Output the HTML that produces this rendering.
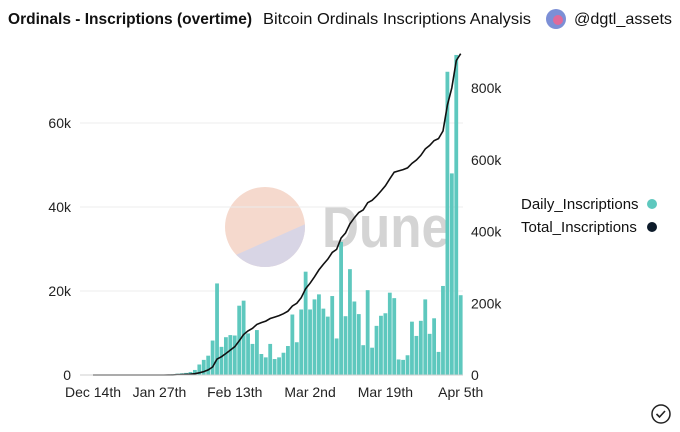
<!DOCTYPE html>
<html><head><meta charset="utf-8"><style>
html,body{margin:0;padding:0;background:#fff;}
svg{display:block;font-family:"Liberation Sans",sans-serif;}
</style></head><body>
<svg id="chart" width="680" height="432" viewBox="0 0 680 432" xmlns="http://www.w3.org/2000/svg">
  <g>
    <text x="8" y="24" font-size="16" font-weight="bold" fill="#111" textLength="244" lengthAdjust="spacingAndGlyphs">Ordinals - Inscriptions (overtime)</text>
    <text x="263" y="24" font-size="16" fill="#111" textLength="268" lengthAdjust="spacingAndGlyphs">Bitcoin Ordinals Inscriptions Analysis</text>
    <circle cx="556" cy="19" r="10" fill="#7c8fd6"/>
    <circle cx="558" cy="20" r="5" fill="#e06a9a"/>
    <text x="574" y="24" font-size="16" fill="#111" textLength="98" lengthAdjust="spacingAndGlyphs">@dgtl_assets</text>
  </g>
  <g>
    <clipPath id="wc"><circle cx="265" cy="227" r="40"/></clipPath>
    <g clip-path="url(#wc)">
      <rect x="220" y="180" width="90" height="95" fill="#f5d9cd"/>
      <polygon points="220,262 310,222 310,275 220,275" fill="#d8d5e5"/>
    </g>
    <text x="322" y="247" font-size="58" font-weight="bold" fill="#d4d4d4" textLength="128" lengthAdjust="spacingAndGlyphs">Dune</text>
  </g>
  <g id="grid"></g>
  <g id="bars"></g>
  <path id="line" fill="none" stroke="#111" stroke-width="1.6"/>
  <g id="axes"></g>
  <g>
    <text x="521" y="209" font-size="15" fill="#111">Daily_Inscriptions</text>
    <circle cx="652" cy="204" r="5" fill="#5ec8be"/>
    <text x="521" y="232" font-size="15" fill="#111">Total_Inscriptions</text>
    <circle cx="652" cy="227" r="5" fill="#0d1b2a"/>
  </g>
  <g>
    <circle cx="661" cy="414" r="9" fill="none" stroke="#222" stroke-width="1.5"/>
    <path d="M656.5 414 l3 3 l5.5 -6" fill="none" stroke="#222" stroke-width="1.6"/>
  </g>
</svg>
<script>
const dailyValues = [
0,0,0,0,0,0,0,0,0,0,0,0,0,0,0,0,0.1,0.1,0.2,0.3,0.4,0.5,0.7,
1.2,2.5,3.6,4.6,8.2,21.8,6.7,9,9.5,9.4,16.5,17.7,9.9,7.4,10.7,5,4.2,7.4,3.8,4.2,5.3,6.9,14.4,7.8,15.6,24.6,15.6,18,19.2,15.8,13.9,
18.8,8.7,31.7,14,25.2,17.5,14.5,7.1,20.2,6.5,11.7,14.1,14.7,19.6,18.3,3.7,3.6,4.7,12.7,9.3,12.9,18,9.8,13.5,5.5,21.2,72.2,48,76.2,19
];
const xTickLabels = ["Dec 14th","Jan 27th","Feb 13th","Mar 2nd","Mar 19th","Apr 5th"];
const xTickIndex = [0,15,32,49,66,83];
const leftTicks = [0,20,40,60];
const leftTickLabels = ["0","20k","40k","60k"];
const rightTicks = [0,200,400,600,800];
const rightTickLabels = ["0","200k","400k","600k","800k"];

const NS="http://www.w3.org/2000/svg";
const x0=93, step=4.43, base=375;
const xs=i=>x0+i*step;
const yL=v=>base-v*4.2;       // k units, 20k = 84px
const yR=v=>base-v*0.35875;   // k units, 800k = 287px
function mk(tag,attrs,parent){const e=document.createElementNS(NS,tag);for(const k in attrs)e.setAttribute(k,attrs[k]);parent.appendChild(e);return e;}

const grid=document.getElementById('grid');
leftTicks.forEach((t,i)=>{ if(t===0) return;
  const l=mk('line',{x1:80,x2:463,y1:yL(t),y2:yL(t),stroke:'#ececec','stroke-width':1},grid);
  
  
});
const bars=document.getElementById('bars');
dailyValues.forEach((v,i)=>{ if(v<=0) return;
  const r=mk('rect',{x:xs(i)-1.9,y:yL(v),width:3.8,height:base-yL(v),fill:'#5ec8be'},bars);
  
  
});
let cum=0,d='';
dailyValues.forEach((v,i)=>{cum+=v;d+=(i?'L':'M')+xs(i).toFixed(1)+' '+yR(cum).toFixed(1);});
document.getElementById('line').setAttribute('d',d);

const axes=document.getElementById('axes');
const bl=mk('line',{x1:80,x2:463,y1:base,y2:base,stroke:'#cfcfcf','stroke-width':1},axes);


xTickLabels.forEach((s,i)=>{
  const t=mk('text',{x:xs(xTickIndex[i]),y:397,'font-size':14,fill:'#222','text-anchor':'middle'},axes);
  t.textContent=s;
  
  
});
leftTicks.forEach((v,i)=>{
  const t=mk('text',{x:71,y:yL(v)+5,'font-size':14,fill:'#222','text-anchor':'end'},axes);
  t.textContent=leftTickLabels[i];
  
  
});
rightTicks.forEach((v,i)=>{
  const t=mk('text',{x:471,y:yR(v)+5,'font-size':14,fill:'#222'},axes);
  t.textContent=rightTickLabels[i];
  
  
});
</script>
</body></html>
